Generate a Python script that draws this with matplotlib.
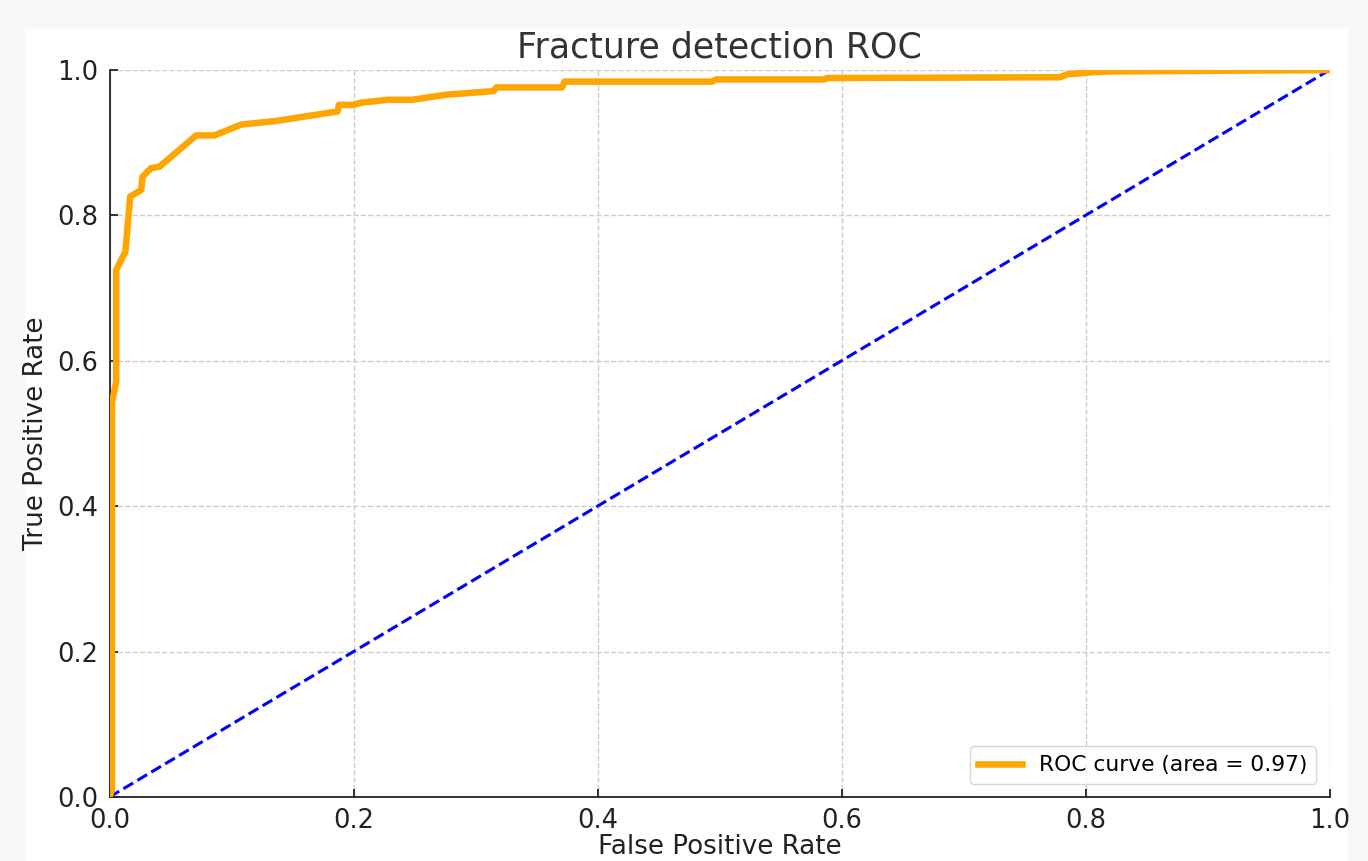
import matplotlib
matplotlib.use("Agg")
import matplotlib.pyplot as plt
from matplotlib.patches import Rectangle

# ROC curve points
fpr = [0.0, 0.002, 0.002, 0.0055, 0.0055, 0.013, 0.017, 0.026, 0.027, 0.034, 0.041,
       0.071, 0.086, 0.108, 0.137, 0.160, 0.187, 0.188, 0.200, 0.206, 0.228, 0.248,
       0.276, 0.315, 0.317, 0.371, 0.373, 0.494, 0.497, 0.586, 0.588, 0.779, 0.785,
       0.806, 0.820, 1.0]
tpr = [0.0, 0.010, 0.542, 0.571, 0.725, 0.750, 0.826, 0.835, 0.853, 0.865, 0.867,
       0.910, 0.910, 0.925, 0.930, 0.936, 0.943, 0.952, 0.952, 0.955, 0.959, 0.959,
       0.966, 0.971, 0.976, 0.976, 0.984, 0.984, 0.987, 0.987, 0.989, 0.990, 0.994,
       0.997, 0.998, 1.0]
diag = [0.0, 1.0]
roc_auc = 0.97
ticks = [0.0, 0.2, 0.4, 0.6, 0.8, 1.0]

W, H = 1368, 861
fig = plt.figure(figsize=(W / 100, H / 100), dpi=100)
fig.patch.set_facecolor("#f9f7f7")
bg = Rectangle((25 / W, 0), (1348 - 25) / W, 1 - 28 / H,
               transform=fig.transFigure, facecolor="white",
               edgecolor="none", zorder=-10)
fig.add_artist(bg)

ax = fig.add_axes([109.5 / W, 1 - 797 / H, 1220 / W, 727 / H])
ax.set_zorder(1)
ax.set_facecolor("white")
ax.plot(fpr, tpr, color="#FFA500", lw=4.7, label=f"ROC curve (area = {roc_auc:.2f})",
        zorder=3)
ax.plot(diag, diag, color="#0000FF", lw=2.2, linestyle="--", zorder=2)
ax.set_xlim(0.0, 1.0)
ax.set_ylim(0.0, 1.0)
ax.set_xticks(ticks)
ax.set_yticks(ticks)
ax.grid(True, linestyle="--", color="#cccccc", linewidth=1.0)
ax.set_axisbelow(True)
for s in ["top", "right"]:
    ax.spines[s].set_visible(False)
for s in ["left", "bottom"]:
    ax.spines[s].set_color("#222222")
    ax.spines[s].set_linewidth(1.3)
ax.tick_params(direction="in", length=6, width=1.3, labelsize=18.5,
               colors="#222222", pad=8)
ax.set_xlabel("False Positive Rate", fontsize=18.8, color="#222222", labelpad=0)
ax.set_ylabel("True Positive Rate", fontsize=18.8, color="#222222", labelpad=6)
ax.set_title("Fracture detection ROC", fontsize=25, color="#333333", pad=9)
ax.legend(loc="lower right", fontsize=15.7, frameon=True, fancybox=True,
          edgecolor="#cccccc", borderaxespad=0.6)

fig.savefig("out.png", dpi=100, facecolor=fig.get_facecolor())
